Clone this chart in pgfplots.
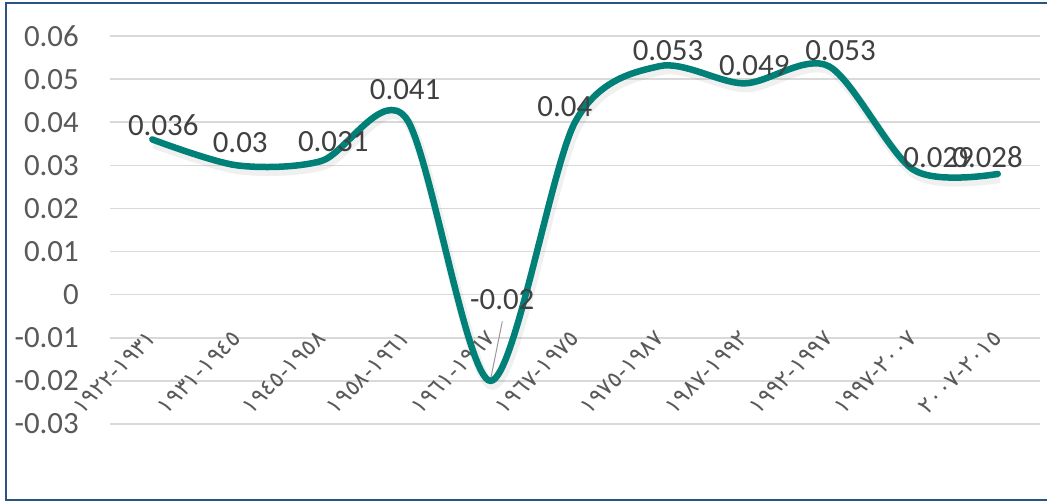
\documentclass[border=0pt]{standalone}
\usepackage{pgfplots}
\pgfplotsset{compat=1.18}
\usepackage{fontspec}
\setmainfont{Carlito}
\newfontfamily\arabicfont{DejaVu Sans}
\newcommand\yr[2]{\mbox{#1}\mbox{-}\mbox{#2}}
\definecolor{teal1}{RGB}{0,128,119}
\definecolor{tickgray}{RGB}{89,89,89}
\definecolor{labgray}{RGB}{64,64,64}
\definecolor{gridgray}{RGB}{217,217,217}
\definecolor{frameblue}{RGB}{40,84,134}
\begin{document}
\begin{tikzpicture}[x=1bp,y=1bp]
\useasboundingbox (0,0) rectangle (1047,503);
\begin{axis}[
  at={(110bp,79bp)}, anchor=south west,
  scale only axis, width=930bp, height=388bp,
  xmin=-0.5, xmax=10.5, ymin=-0.03, ymax=0.06,
  scaled y ticks=false,
  xtick={0,1,2,3,4,5,6,7,8,9,10},
  xticklabels={\yr{١٩٢٢}{١٩٣١},\yr{١٩٣١}{١٩٤٥},\yr{١٩٤٥}{١٩٥٨},\yr{١٩٥٨}{١٩٦١},\yr{١٩٦١}{١٩٦٧},\yr{١٩٦٧}{١٩٧٥},\yr{١٩٧٥}{١٩٨٧},\yr{١٩٨٧}{١٩٩٢},\yr{١٩٩٢}{١٩٩٧},\yr{١٩٩٧}{٢٠٠٧},\yr{٢٠٠٧}{٢٠١٥}},
  ytick={-0.03,-0.02,-0.01,0,0.01,0.02,0.03,0.04,0.05,0.06},
  yticklabels={-0.03,-0.02,-0.01,0,0.01,0.02,0.03,0.04,0.05,0.06},
  ymajorgrids, grid style={gridgray, line width=1.5bp},
  axis line style={draw=none}, major tick length=0pt,
  yticklabel style={font=\fontsize{31}{31}\selectfont, text=tickgray, anchor=east, inner sep=0pt, xshift=-31bp},
  xticklabel style={yshift=95bp, xshift=-5bp, rotate=45, anchor=north east, inner sep=0pt, font=\arabicfont\fontsize{23}{23}\selectfont, text=tickgray},
  clip=false,
]
\addplot[gray, opacity=0.12, line width=10bp, smooth, tension=0.5, yshift=-4bp, xshift=2bp, forget plot] coordinates {
(0,0.036) (1,0.030) (2,0.031) (3,0.041) (4,-0.020) (5,0.040) (6,0.053) (7,0.049) (8,0.053) (9,0.029) (10,0.028)};
\addplot[gray!80, line width=1bp, forget plot] coordinates {(4.14,-0.0062) (4,-0.0198)};
\addplot[teal1, line width=6.5bp, smooth, tension=0.5, line cap=round] coordinates {
(0,0.036) (1,0.030) (2,0.031) (3,0.041) (4,-0.020) (5,0.040) (6,0.053) (7,0.049) (8,0.053) (9,0.029) (10,0.028)};
\begin{scope}[every node/.style={font=\fontsize{31}{31}\selectfont, text=labgray, anchor=center, inner sep=0pt}]
\node at (axis cs:0.13,0.0394) {0.036};
\node at (axis cs:1.04,0.0352) {0.03};
\node at (axis cs:2.14,0.0354) {0.031};
\node at (axis cs:2.99,0.0475) {0.041};
\node at (axis cs:4.14,-0.0012) {-0.02};
\node at (axis cs:4.88,0.0436) {0.04};
\node at (axis cs:6.1,0.0565) {0.053};
\node at (axis cs:7.12,0.0532) {0.049};
\node at (axis cs:8.14,0.0565) {0.053};
\node at (axis cs:9.3,0.0318) {0.029};
\node at (axis cs:9.88,0.0318) {0.028};
\end{scope}
\end{axis}
\draw[frameblue, line width=1.6bp] (6,3) rectangle (1060,500);
\end{tikzpicture}
\end{document}
